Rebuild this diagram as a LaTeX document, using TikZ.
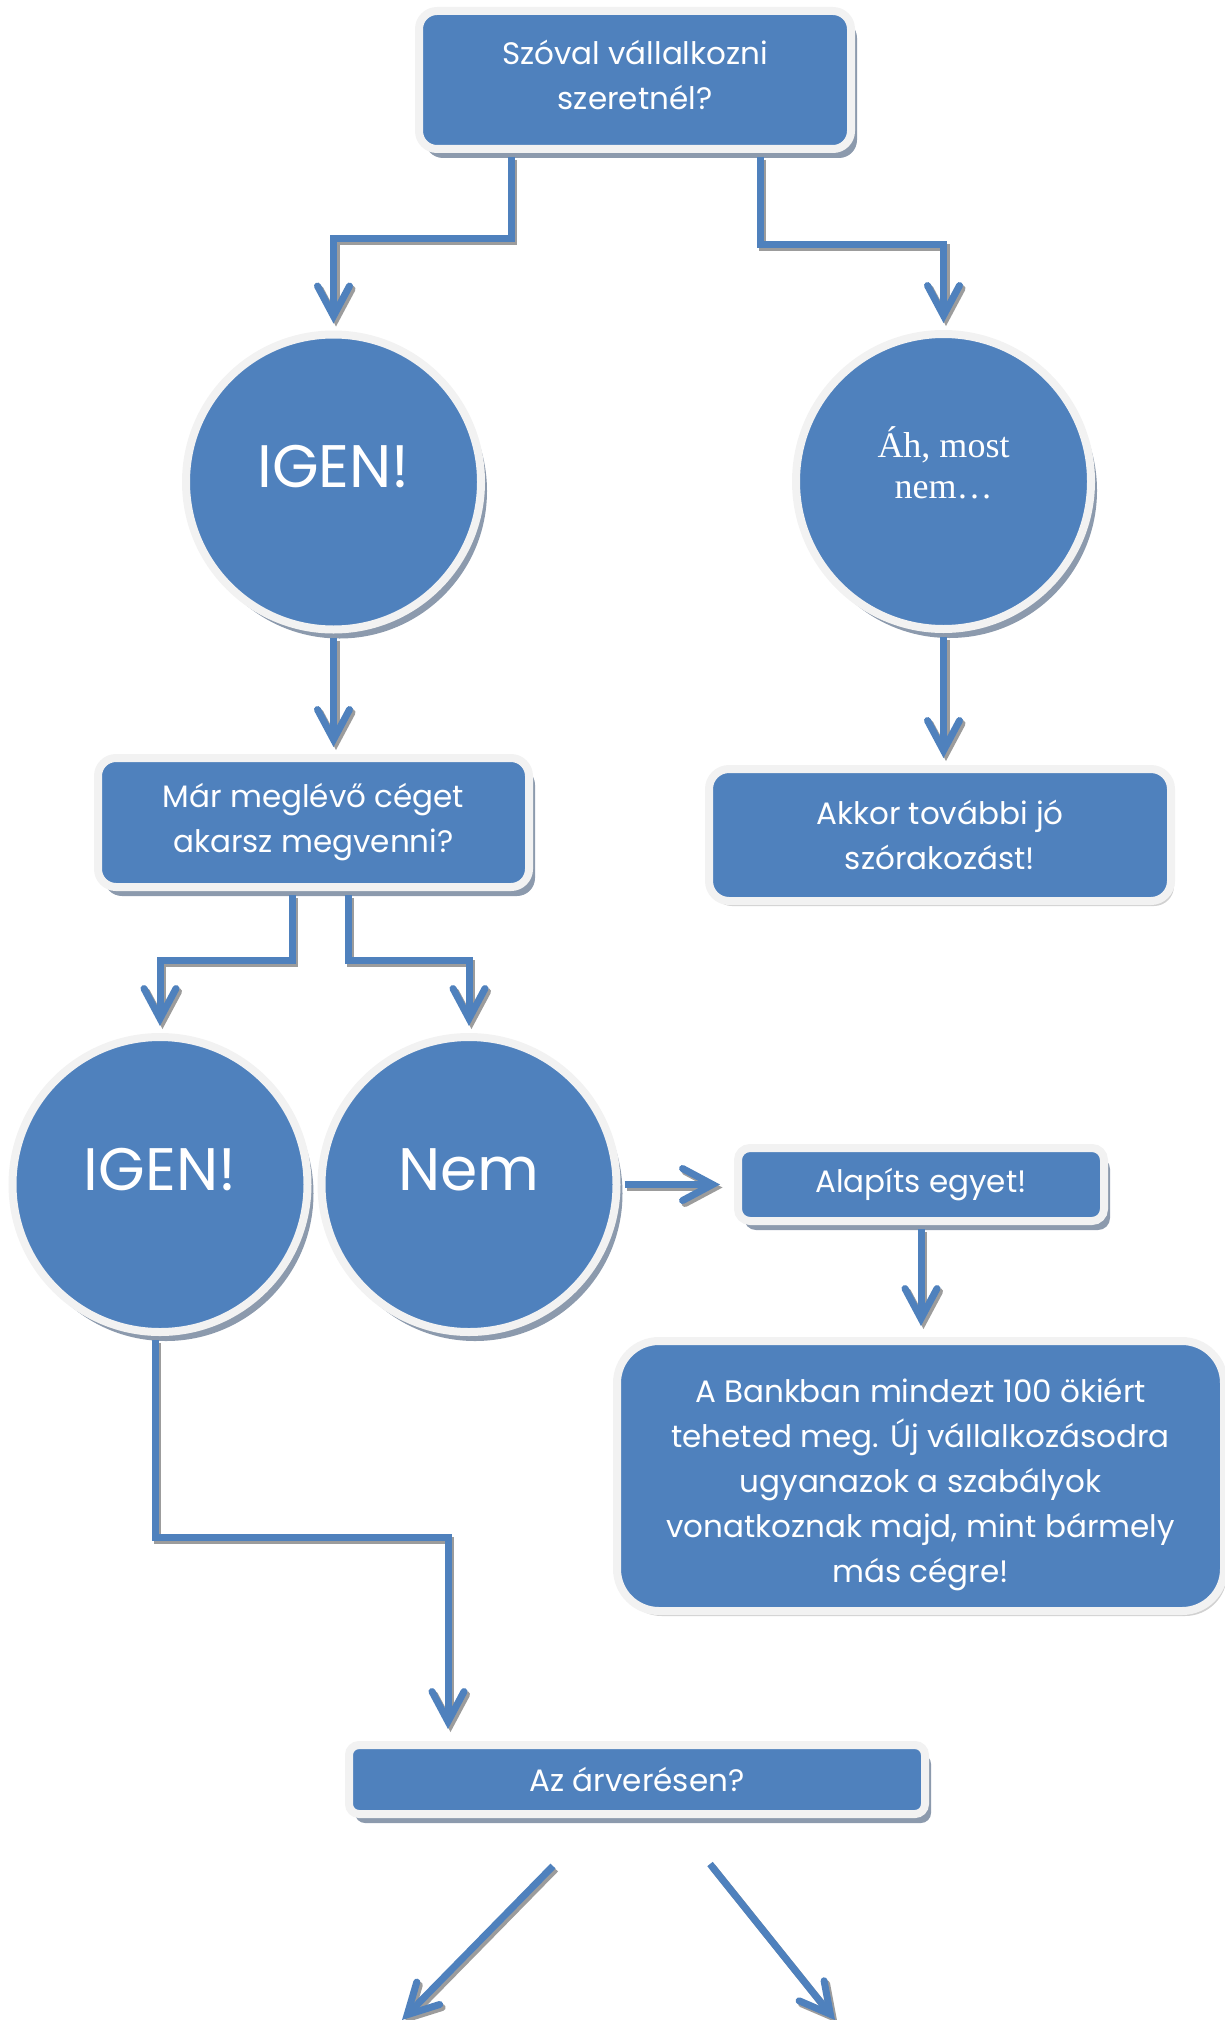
\documentclass[tikz,border=0pt]{standalone}
\usepackage{fontspec}
\setmainfont{Poppins}
\newfontfamily\timesfont{Liberation Serif}
\usetikzlibrary{arrows.meta}
\usetikzlibrary{shadows}

\definecolor{flow}{HTML}{4F81BD}
\definecolor{ring}{HTML}{F2F2F2}
\definecolor{shade}{HTML}{8C9AAD}
\definecolor{lineshade}{HTML}{9C9C9C}

\tikzset{
	boxtext/.style={text=white, align=center, font=\fontsize{31}{45}\selectfont},
	darkshadow/.style={drop shadow={shadow xshift=6pt, shadow yshift=-9pt, fill=shade, opacity=1}},
	softshadow/.style={drop shadow={shadow xshift=3pt, shadow yshift=-5pt, fill=black!30, opacity=.6}},
	qbox/.style={boxtext, rectangle, inner sep=0pt, fill=flow, draw=ring, line width=8pt},
	answer/.style={circle, minimum size=295pt, inner sep=0pt, fill=flow, draw=ring, line width=8pt, text=white, darkshadow},
	bigword/.style={font=\fontsize{60}{60}\selectfont, text height=44pt, text depth=33pt},
	flowline/.style={line width=7pt, -{Straight Barb[length=30pt,width=32pt,line cap=round]}, shorten >=7pt},
}

\begin{document}
\begin{tikzpicture}[x=1pt,y=-1pt]
		\useasboundingbox (0,0) rectangle (1224,2020);
		\node[qbox, darkshadow, rounded corners=18pt, minimum width=432pt, minimum height=138pt, text depth=10pt] (want) at (635,80) {Szóval vállalkozni\\szeretnél?};
		\node[answer, bigword] (yes1) at (333.5,482) {IGEN!};
		\node[answer, align=center, font=\timesfont\fontsize{36}{41}\selectfont, text height=75pt, text depth=42pt] (notnow) at (943.5,481.5) {Áh, most\\nem…};
		\node[qbox, darkshadow, rounded corners=18pt, minimum width=431pt, minimum height=129pt] (buy) at (313.5,822.5) {Már meglévő céget\\akarsz megvenni?};
		\node[qbox, softshadow, rounded corners=20pt, minimum width=462pt, minimum height=132pt] (bye) at (940,835) {Akkor további jó\\szórakozást!};
		\node[answer, bigword] (yes2) at (160,1184.5) {IGEN!};
		\node[answer, bigword] (no2) at (469,1184.5) {Nem};
		\node[qbox, darkshadow, rounded corners=12pt, minimum width=366pt, minimum height=73pt] (found) at (921,1184.5) {Alapíts egyet!};
		\node[qbox, softshadow, rounded corners=42pt, minimum width=607pt, minimum height=270pt, text height=212pt, text depth=0pt] (bank) at (920.5,1476) {A Bankban mindezt 100 ökiért\\teheted meg. Új vállalkozásodra\\ugyanazok a szabályok\\vonatkoznak majd, mint bármely\\más cégre!};
		\node[qbox, darkshadow, rounded corners=10pt, minimum width=576pt, minimum height=69pt] (auction) at (637,1779.5) {Az árverésen?};
		\coordinate (lowleft) at (402,2020);
		\coordinate (lowright) at (835,2020);
		\foreach \ink/\dx/\dy in {lineshade/2.5/-3, flow/0/0} {
		\begin{scope}[transform canvas={shift={(\dx pt,\dy pt)}}, every path/.append style={draw=\ink}]
			\draw[flowline] ([xshift=-124,yshift=-4]want.south) -- ++(0,81) -| (yes1);
			\draw[flowline] ([xshift=125,yshift=-4]want.south) -- ++(0,87) -| (notnow);
			\draw[flowline] ([yshift=-4]yes1.south) -- (yes1.south |- buy.north);
			\draw[flowline] ([yshift=-4]notnow.south) -- (notnow.south |- bye.north);
			\draw[flowline] ([xshift=-21.5,yshift=-4]buy.south) -- ++(0,65) -| (yes2);
			\draw[flowline] ([xshift=34.5,yshift=-4]buy.south) -- ++(0,65) -| (no2);
			\draw[flowline, shorten >=14pt] ([xshift=4]no2.east) -- (found);
			\draw[flowline, shorten >=11pt] ([yshift=-4]found.south) -- (found.south |- bank.north);
			\draw[flowline, shorten >=12pt] ([xshift=-5,yshift=-4]yes2.south) -- ++(0,197) -| ([xshift=-189]auction.north);
			\draw[flowline, shorten >=0pt] ([xshift=-84,yshift=-48]auction.south) -- (lowleft);
			\draw[flowline, shorten >=0pt] ([xshift=73,yshift=-46]auction.south) -- (lowright);
		\end{scope}
		}
	    \end{tikzpicture}
\end{document}
